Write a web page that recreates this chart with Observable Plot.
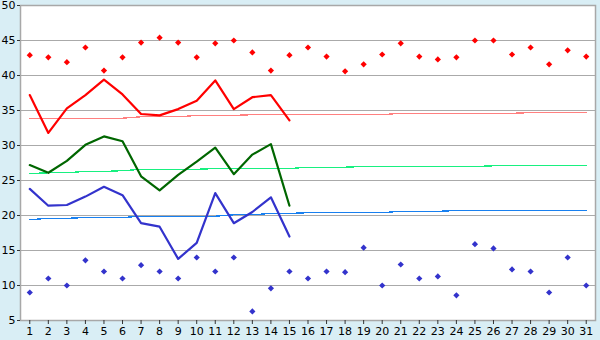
<!DOCTYPE html>
<html>
<head>
<meta charset="utf-8">
<script src="https://cdn.jsdelivr.net/npm/d3@7"></script>
<script src="https://cdn.jsdelivr.net/npm/@observablehq/plot@0.6"></script>
<style>
  html, body { margin: 0; padding: 0; background: #d9eef5; }
  #chart svg { display: block; }
</style>
</head>
<body>
<div id="chart"></div>
<script>
const days = [1,2,3,4,5,6,7,8,9,10,11,12,13,14,15,16,17,18,19,20,21,22,23,24,25,26,27,28,29,30,31];
const maxPoints = [42.9,42.6,41.9,44.0,40.7,42.6,44.7,45.4,44.7,42.6,44.6,45.0,43.3,40.7,42.9,44.0,42.7,40.6,41.6,43.0,44.6,42.7,42.3,42.6,45.0,45.0,43.0,44.0,41.6,43.6,42.7];
const minPoints = [9.0,11.0,10.0,13.6,12.0,11.0,12.9,12.0,11.0,14.0,12.0,14.0,6.3,9.6,12.0,11.0,12.0,11.9,15.4,10.0,13.0,11.0,11.3,8.6,15.9,15.3,12.3,12.0,9.0,14.0,10.0];
const redLine = [37.2,31.8,35.3,37.2,39.4,37.3,34.5,34.3,35.2,36.4,39.3,35.2,36.9,37.2,33.6];
const greenLine = [27.2,26.1,27.8,30.1,31.3,30.6,25.6,23.6,25.8,27.7,29.7,25.9,28.7,30.2,21.4];
const blueLine = [23.8,21.4,21.5,22.7,24.1,22.9,18.9,18.4,13.8,16.1,23.2,18.9,20.5,22.6,17.0];
const redNormal = [33.9,33.9,33.9,33.9,33.9,33.9,34.1,34.1,34.1,34.3,34.3,34.3,34.4,34.4,34.4,34.4,34.4,34.4,34.4,34.4,34.6,34.6,34.6,34.6,34.6,34.6,34.6,34.7,34.7,34.7,34.7];
const greenNormal = [26.0,26.1,26.1,26.3,26.3,26.4,26.6,26.6,26.6,26.6,26.7,26.7,26.7,26.7,26.7,26.9,26.9,26.9,27.0,27.0,27.0,27.0,27.0,27.0,27.0,27.1,27.1,27.1,27.1,27.1,27.1];
const blueNormal = [19.4,19.6,19.6,19.7,19.7,19.7,19.9,19.9,19.9,19.9,19.9,20.1,20.1,20.3,20.3,20.4,20.4,20.4,20.4,20.4,20.6,20.6,20.6,20.7,20.7,20.7,20.7,20.7,20.7,20.7,20.7];
const yTicks = [5,10,15,20,25,30,35,40,45,50];

const tbl = (vals) => vals.map((v, i) => ({day: days[i], v}));

const chart = Plot.plot({
  width: 600,
  height: 340,
  marginLeft: 20,
  marginRight: 5,
  marginTop: 5,
  marginBottom: 20,
  style: {background: "#d9eef5", fontFamily: "DejaVu Sans, Verdana, sans-serif", fontSize: "11px", color: "#000"},
  x: {domain: [0.5, 31.5]},
  y: {domain: [5, 50]},
  marks: [
    Plot.frame({fill: "white", stroke: "none"}),
    Plot.gridY(yTicks.slice(1, -1), {stroke: "#aaaaaa", strokeOpacity: 1, strokeWidth: 1}),
    Plot.frame({stroke: "#a8a8a8", strokeWidth: 1.5}),
    Plot.line(tbl(redNormal), {x: "day", y: "v", stroke: "#ff8080", strokeWidth: 1.3, shapeRendering: "crispEdges"}),
    Plot.line(tbl(greenNormal), {x: "day", y: "v", stroke: "#18f080", strokeWidth: 1.3, shapeRendering: "crispEdges"}),
    Plot.line(tbl(blueNormal), {x: "day", y: "v", stroke: "#1880f0", strokeWidth: 1.3, shapeRendering: "crispEdges"}),
    Plot.line(tbl(redLine), {x: "day", y: "v", stroke: "#ff0000", strokeWidth: 2.2}),
    Plot.line(tbl(greenLine), {x: "day", y: "v", stroke: "#006600", strokeWidth: 2.2}),
    Plot.line(tbl(blueLine), {x: "day", y: "v", stroke: "#3333cc", strokeWidth: 2.2}),
    Plot.dot(tbl(maxPoints), {x: "day", y: "v", symbol: "diamond2", r: 2.8, fill: "#ff0000", stroke: "none"}),
    Plot.dot(tbl(minPoints), {x: "day", y: "v", symbol: "diamond2", r: 2.8, fill: "#3333cc", stroke: "none"}),
    Plot.axisY(yTicks, {tickSize: 3, tickPadding: 2, label: null, stroke: "#333"}),
    Plot.axisX(days, {tickSize: 4, tickPadding: 3, label: null, tickFormat: d => String(d), stroke: "#333"})
  ]
});
document.getElementById("chart").append(chart);
</script>
</body>
</html>
